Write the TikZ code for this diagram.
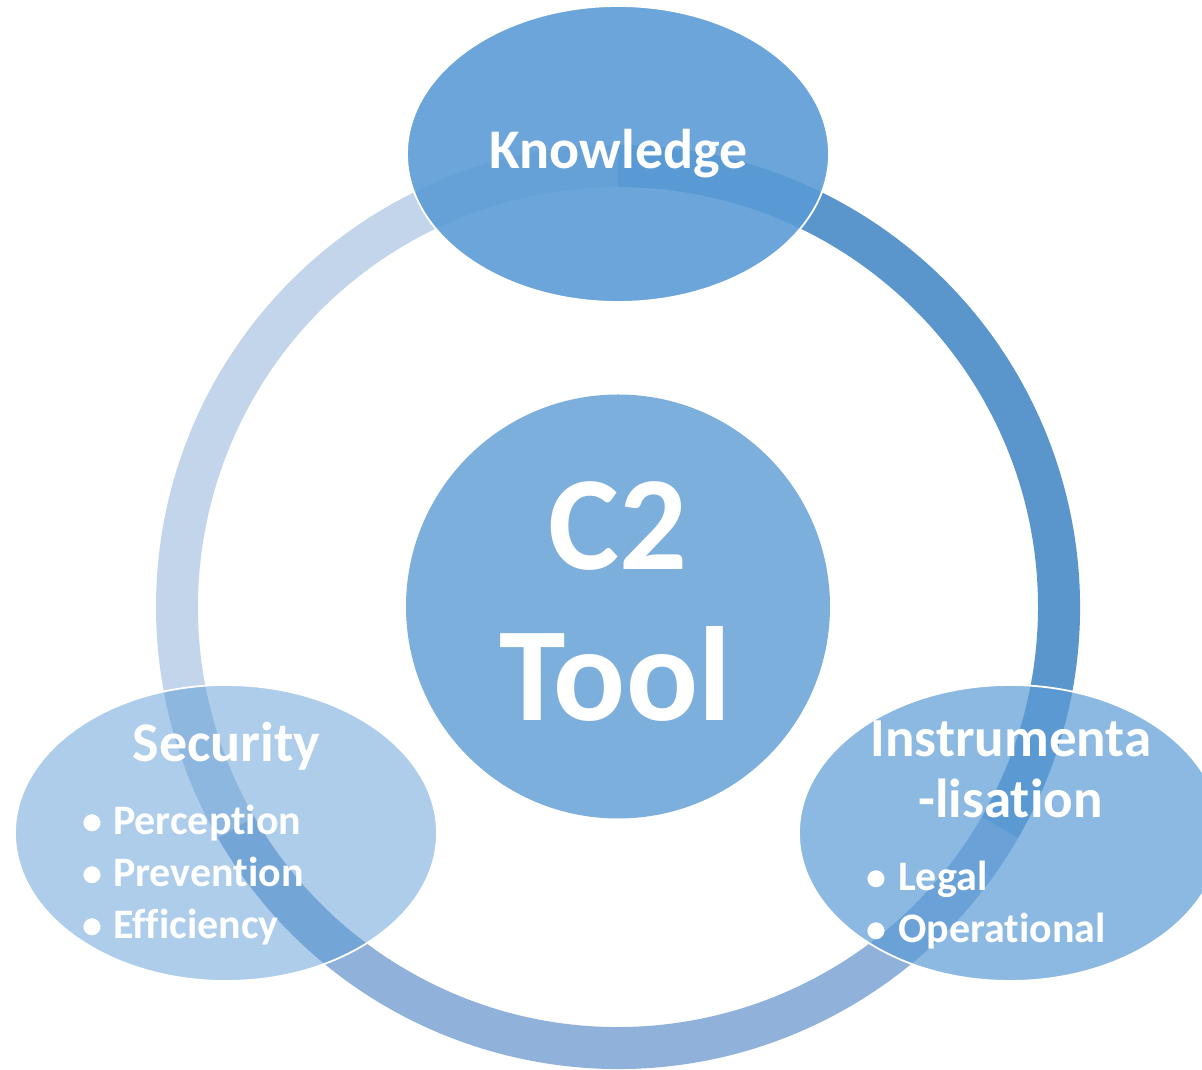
\documentclass[tikz,border=0pt]{standalone}
\usepackage{fontspec}
\setmainfont{Carlito}[Ligatures={NoCommon}]
\definecolor{accent}{HTML}{5B9BD5}
\definecolor{arcLight}{HTML}{C3D5EA}
\definecolor{arcDark}{HTML}{5A96CC}
\definecolor{arcBottom}{HTML}{8FB1DA}
\definecolor{hub}{HTML}{7DAFDC}
\tikzset{
  blob/.style={ellipse, minimum width=422pt, minimum height=296pt, inner sep=0pt,
    fill=accent, draw=white, line width=1.8pt},
  lbl/.style={text=white, inner sep=0pt, font=\bfseries},
  head/.style={lbl, anchor=base, font=\fontsize{56}{60}\selectfont\bfseries},
  item/.style={lbl, anchor=base west, font=\fontsize{42}{50}\selectfont\bfseries},
  bul/.style={lbl, anchor=base, font=\fontsize{40}{50}\selectfont\bfseries},
}
\usetikzlibrary{shapes.geometric}
\begin{document}
\begin{tikzpicture}[x=1pt,y=1pt]
\useasboundingbox (0,0) rectangle (1202,1070);
\clip (0,0) rectangle (1202,1070);
% ring segments
\begin{scope}[shift={(618,463)}]
  \fill[arcLight] (90:462) arc[start angle=90,end angle=210,radius=462] -- (210:420) arc[start angle=210,end angle=90,radius=420] -- cycle;
  \fill[arcBottom] (210:462) arc[start angle=210,end angle=330,radius=462] -- (330:420) arc[start angle=330,end angle=210,radius=420] -- cycle;
  \fill[arcDark] (-30:462) arc[start angle=-30,end angle=90,radius=462] -- (90:420) arc[start angle=90,end angle=-30,radius=420] -- cycle;
\end{scope}
% hub
\node[circle, fill=hub, minimum size=424pt, inner sep=0pt] (hub) at (618,463.5) {};
\node[lbl, anchor=base, font=\fontsize{134}{150}\selectfont\bfseries] (c2) at (618,500) {C2};
\node[lbl, anchor=base, font=\fontsize{134}{150}\selectfont\bfseries] (tool) at (615,349) {Tool};
% satellites
\node[blob, fill opacity=0.9] (know) at (618,916) {};
\node[blob, fill opacity=0.5] (sec) at (226,237) {};
\node[blob, fill opacity=0.7] (inst) at (1010,237) {};
% labels
\node[head] (knowt) at (618.5,901) {Knowledge};
\node[head, font=\fontsize{56}{60}\selectfont\bfseries] (sect) at (226.5,308) {Security};
\node[bul] (sb1) at (92.5,235) {•};
\node[item] (s1) at (113,235) {Perception};
\node[bul] (sb2) at (92.5,183) {•};
\node[item] (s2) at (113,183) {Prevention};
\node[bul] (sb3) at (92.5,131) {•};
\node[item] (s3) at (113,131) {Efficiency};
\node[head, font=\fontsize{55}{60}\selectfont\bfseries] (it1) at (1011,313) {Instrumenta};
\node[head, font=\fontsize{55}{60}\selectfont\bfseries] (it2) at (1010.5,252) {-lisation};
\node[bul] (ib1) at (876,179) {•};
\node[item] (i1) at (898,179) {Legal};
\node[bul] (ib2) at (876,127) {•};
\node[item] (i2) at (898,127) {Operational};
\end{tikzpicture}
\end{document}
